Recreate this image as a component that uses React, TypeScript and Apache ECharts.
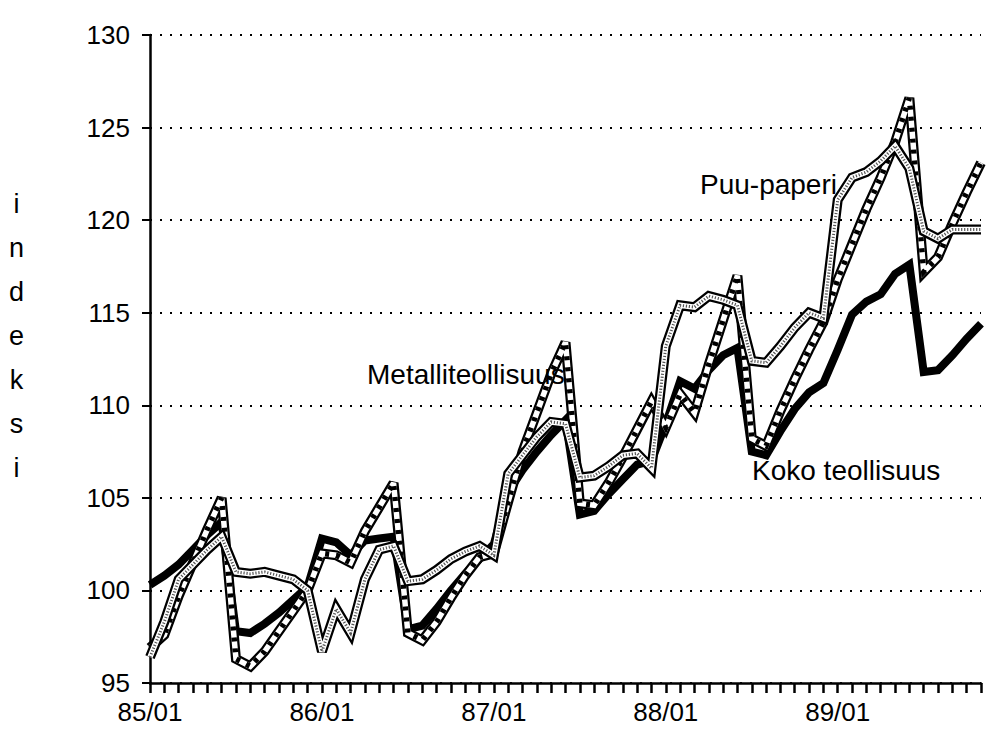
import React, { useEffect, useRef } from "react";
import * as echarts from "echarts";

const years = ["85", "86", "87", "88", "89"];
const months = ["01", "02", "03", "04", "05", "06", "07", "08", "09", "10", "11", "12"];
const categories: string[] = [];
years.forEach((y) => months.forEach((m) => categories.push(`${y}/${m}`)));
const monthCats = categories.slice(0, 59); // 85/01 .. 89/11

const kokoTeollisuus = [
  100.3, 100.8, 101.4, 102.2, 103.0, 103.7, 97.8, 97.7, 98.2, 98.8, 99.5, 100.2,
  102.8, 102.6, 101.9, 102.7, 102.8, 102.9, 97.9, 98.1, 99.0, 100.0, 100.9, 101.7,
  102.5, 105.3, 106.5, 107.5, 108.4, 109.2, 104.1, 104.3, 105.2, 106.0, 106.8, 107.0,
  109.0, 111.3, 110.9, 111.9, 112.7, 113.1, 107.5, 107.3, 108.6, 109.8, 110.7, 111.2,
  113.0, 114.9, 115.6, 116.0, 117.1, 117.6, 111.8, 111.9, 112.7, 113.6, 114.4,
];
const metalliteollisuus = [
  96.9, 97.6, 99.7, 101.5, 103.3, 105.0, 96.3, 95.9, 96.7, 97.8, 98.9, 100.0,
  102.0, 101.9, 101.5, 103.2, 104.5, 105.8, 97.7, 97.3, 98.3, 99.6, 100.8, 101.8,
  102.0, 104.8, 107.5, 109.6, 111.7, 113.4, 104.7, 104.6, 105.8, 107.2, 108.7, 110.2,
  108.8, 110.6, 109.6, 112.2, 114.6, 117.0, 108.2, 107.8, 109.7, 111.4, 113.0, 114.5,
  116.8, 118.7, 120.6, 122.3, 124.2, 126.6, 117.2, 118.0, 119.8, 121.5, 123.1,
];
const puuPaperi = [
  96.4, 98.3, 100.6, 101.4, 102.2, 102.9, 101.0, 100.9, 101.0, 100.8, 100.6, 100.0,
  96.7, 99.0, 97.7, 100.6, 102.2, 102.4, 100.5, 100.6, 101.1, 101.7, 102.1, 102.4,
  101.9, 106.3, 107.3, 108.3, 109.1, 109.0, 106.1, 106.2, 106.7, 107.3, 107.4, 106.6,
  113.2, 115.4, 115.3, 115.9, 115.7, 115.4, 112.4, 112.3, 113.2, 114.2, 115.0, 114.7,
  121.1, 122.3, 122.6, 123.2, 124.0, 122.8, 119.4, 119.0, 119.5, 119.5, 119.5,
];

const yTicks = { min: 95, max: 130, interval: 5 };
const seriesNames = ["Koko teollisuus", "Metalliteollisuus", "Puu-paperi"];
const yAxisTitle = "indeksi";

const FONT = "'Liberation Sans', Arial, Helvetica, sans-serif";

export default function App() {
  const ref = useRef<HTMLDivElement>(null);
  useEffect(() => {
    if (!ref.current) return;
    const chart = echarts.init(ref.current, undefined, { renderer: "svg" });
    const line = (name: string, data: number[], color: string, width: number, extra: any = {}) => ({
      type: "line",
      name,
      data,
      symbol: "none",
      silent: true,
      lineStyle: { color, width, cap: "butt", join: "miter", miterLimit: 3, ...extra },
      z: 2,
    });
    chart.setOption({
      animation: false,
      backgroundColor: "#ffffff",
      grid: { left: 150, right: 8, top: 35, bottom: 51, containLabel: false },
      xAxis: {
        type: "category",
        data: monthCats,
        boundaryGap: false,
        axisLine: { lineStyle: { color: "#000", width: 2.5 } },
        axisTick: { interval: 0, length: 10, lineStyle: { color: "#000", width: 2.5 } },
        axisLabel: {
          interval: 11,
          margin: 16,
          color: "#000",
          fontSize: 26,
          fontFamily: FONT,
        },
        splitLine: { show: false },
      },
      yAxis: {
        type: "value",
        min: yTicks.min,
        max: yTicks.max,
        interval: yTicks.interval,
        axisLine: { show: true, lineStyle: { color: "#000", width: 2.5 } },
        axisTick: { show: true, length: 8, lineStyle: { color: "#000", width: 2 } },
        axisLabel: { margin: 20, color: "#000", fontSize: 26, fontFamily: FONT },
        splitLine: { show: true, lineStyle: { color: "#000", width: 2, type: [2, 8] } },
      },
      series: [
        line(seriesNames[0], kokoTeollisuus, "#000", 8),
        line(seriesNames[1], metalliteollisuus, "#000", 10),
        line(seriesNames[1], metalliteollisuus, "#fff", 5.5),
        line(seriesNames[1], metalliteollisuus, "#000", 5.5, { type: [4, 7] }),
        line(seriesNames[2], puuPaperi, "#000", 10),
        line(seriesNames[2], puuPaperi, "#fff", 5.5),
        line(seriesNames[2], puuPaperi, "#555", 3, { type: [1.2, 1.8] }),
      ],
      graphic: [
        {
          type: "text",
          left: 3,
          top: 182,
          style: {
            text: yAxisTitle.split("").join("\n"),
            font: `27px ${FONT}`,
            fill: "#000",
            textAlign: "center",
            lineHeight: 44,
            width: 27,
          },
        },
        {
          type: "text",
          left: 700,
          top: 170,
          style: { text: seriesNames[2], font: `28px ${FONT}`, fill: "#000" },
          z: 10,
        },
        {
          type: "text",
          left: 367,
          top: 360,
          style: { text: seriesNames[1], font: `28px ${FONT}`, fill: "#000" },
          z: 10,
        },
        {
          type: "text",
          left: 752,
          top: 456,
          style: { text: seriesNames[0], font: `28px ${FONT}`, fill: "#000" },
          z: 10,
        },
      ],
    });
    return () => chart.dispose();
  }, []);
  return (
    <div
      ref={ref}
      style={{ position: "fixed", left: 0, top: 0, width: 989, height: 734, background: "#fff" }}
    />
  );
}
